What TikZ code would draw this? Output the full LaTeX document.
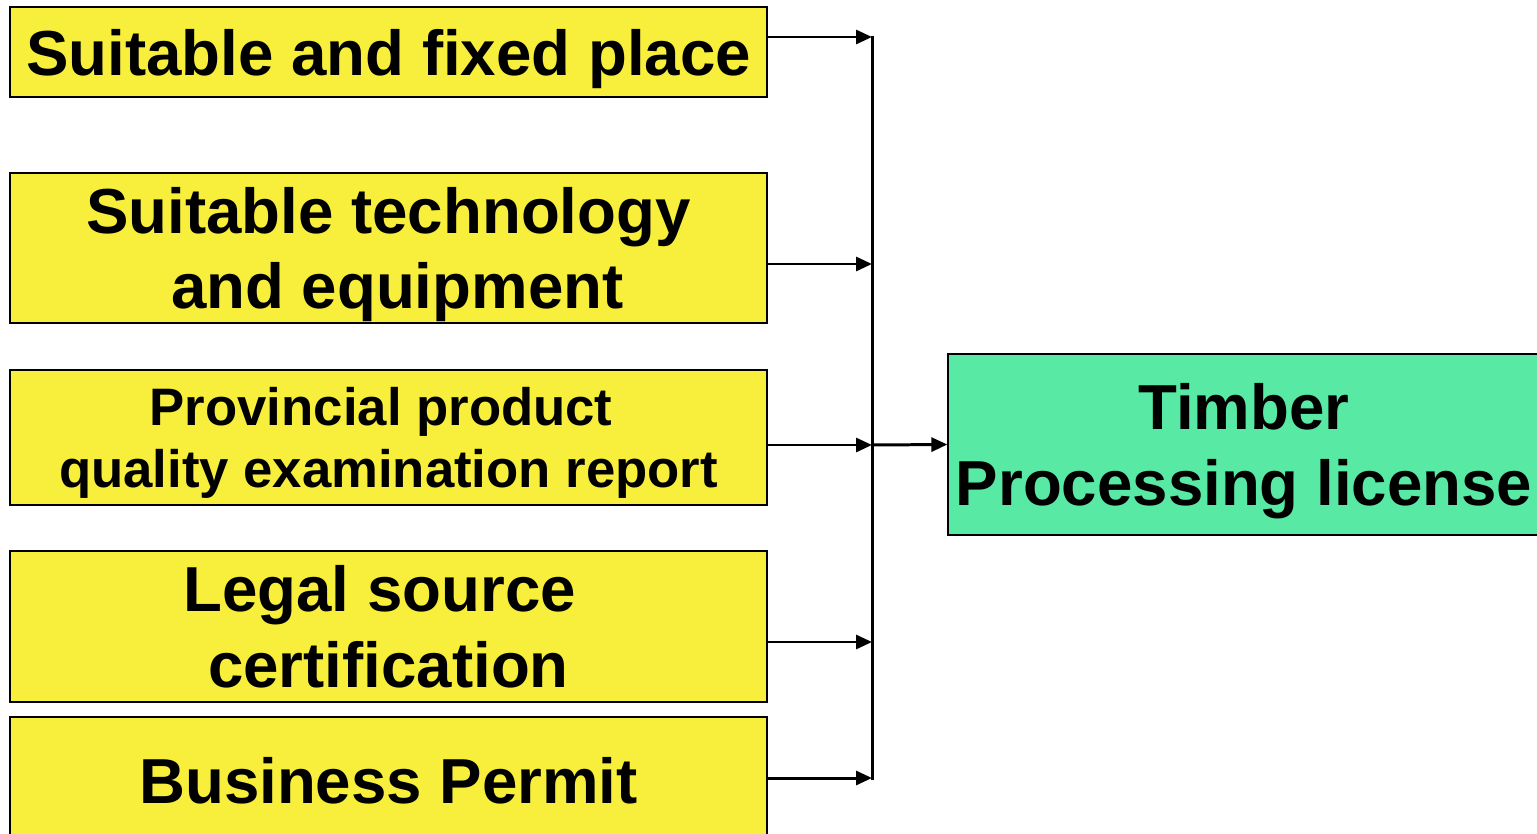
\documentclass[tikz,border=0pt]{standalone}
\usepackage{fontspec}
\setmainfont{Liberation Sans}
\usetikzlibrary{arrows.meta,positioning}
\definecolor{reqyellow}{RGB}{248,238,60}
\definecolor{licgreen}{RGB}{88,233,165}
\tikzset{
  req/.style={rectangle, draw=black, line width=0.8pt, fill=reqyellow,
    minimum width=15.14cm, align=center, text depth=0pt,
    font=\fontsize{36.2}{43}\selectfont\bfseries, inner sep=0pt},
  lic/.style={rectangle, draw=black, line width=0.8pt, fill=licgreen,
    minimum width=11.84cm, minimum height=3.62cm, align=center, text depth=0pt,
    font=\fontsize{36.2}{43}\selectfont\bfseries, inner sep=0pt},
  line/.style={draw, line width=1.7pt, -{Triangle[length=0.32cm,width=0.28cm]}}
}

\begin{document}
\begin{tikzpicture}[x=0.02cm, y=-0.02cm]
    \useasboundingbox (0,0) rectangle (1537,834);
    \clip (0,0) rectangle (1537,834);
    % Place nodes
    \node [req, minimum height=1.8cm] (place) at (388.5,52) {Suitable and fixed place};
    \node [req, minimum height=3.0cm] (tech) at (388.5,248) {Suitable technology\\\hspace*{0.278em}and equipment};
    \node [req, minimum height=2.7cm, font=\fontsize{30}{35.7}\selectfont\bfseries] (report) at (388.5,437.5) {Provincial product\hspace*{0.278em}\\quality examination report};
    \node [req, minimum height=3.02cm] (source) at (388.5,626.5) {Legal source\hspace*{0.278em}\\certification};
    \node [req, minimum height=2.52cm] (permit) at (388.5,780) {Business Permit};
    \node [lic] (license) at (1244,444.5) {Timber\\Processing license};
    \coordinate (bus) at (872,445);
    % Draw edges
    \path [line] ([yshift=0.3cm]place.east) -- ([yshift=0.3cm]place.east -| bus);
    \path [line] ([yshift=-0.32cm]tech.east) -- ([yshift=-0.32cm]tech.east -| bus);
    \path [line] ([yshift=-0.15cm]report.east) -- ([yshift=-0.15cm]report.east -| bus);
    \path [line] ([yshift=-0.31cm]source.east) -- ([yshift=-0.31cm]source.east -| bus);
    \path [line] ([yshift=0.04cm]permit.east) -- ([yshift=0.04cm]permit.east -| bus);
    \draw [line width=1.7pt] ([yshift=0.3cm+0.85pt]place.east -| bus) -- ([yshift=0.04cm-0.85pt]permit.east -| bus);
    \path [line] (bus) -- (license.west);
\end{tikzpicture}
\end{document}
